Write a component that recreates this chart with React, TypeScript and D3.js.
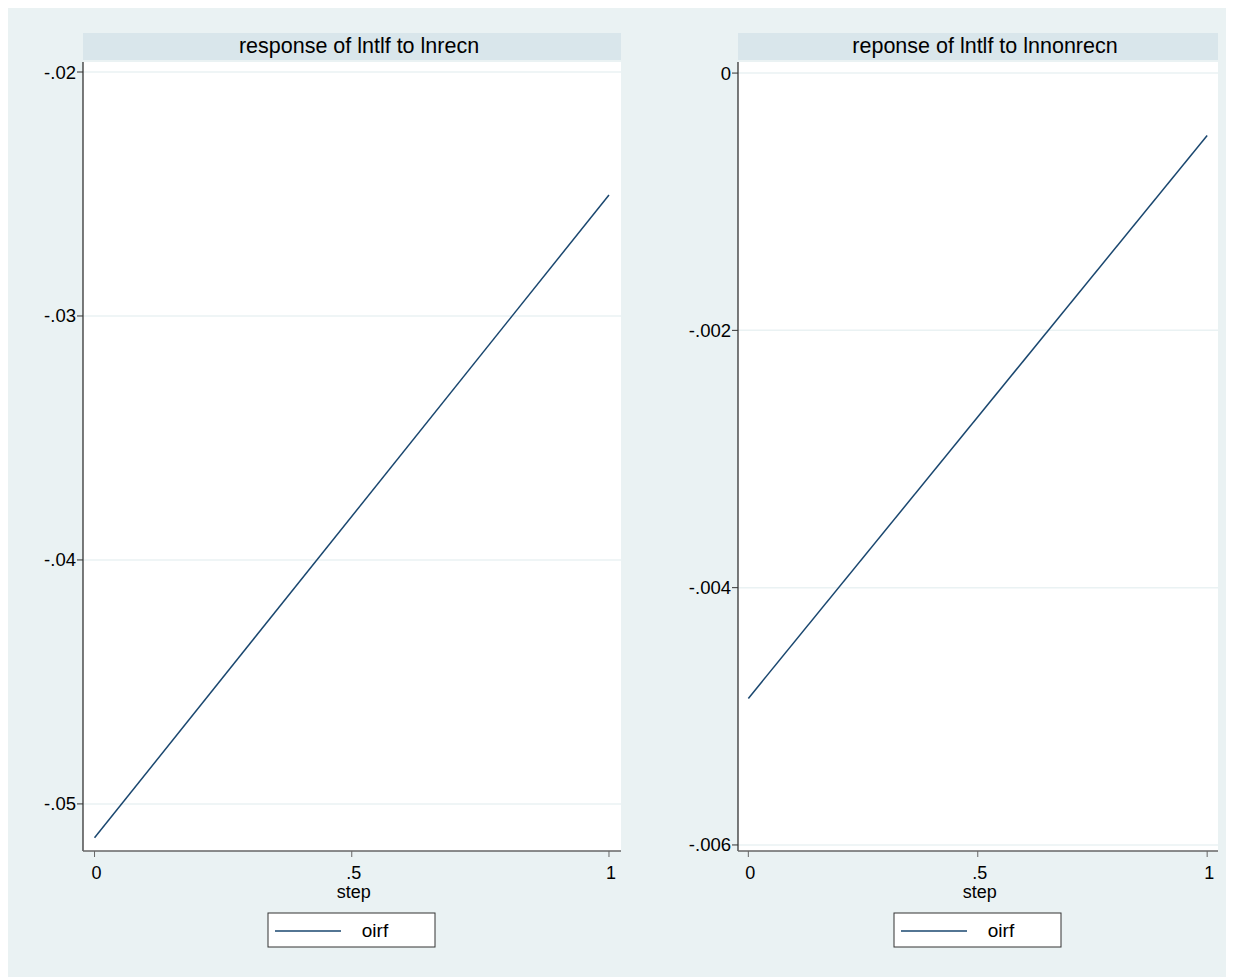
import React from "react";
import * as d3 from "d3";

const steps = [0, 1];
const oirfRecn = [-0.05139, -0.02504];
const oirfNonrecn = [-0.004861, -0.000485];
const xTicks = [0, 0.5, 1];
const yTicksLeft = [-0.02, -0.03, -0.04, -0.05];
const yTicksRight = [0, -0.002, -0.004, -0.006];
const titles = ["response of lntlf to lnrecn", "reponse of lntlf to lnnonrecn"];
const legendLabel = "oirf";

const W = 1226;
const H = 969;
const FONT = "Liberation Sans, Arial, sans-serif";
const NAVY = "#1a476f";

function fmt(v: number) {
  if (v === 0) return "0";
  let s = String(+v.toFixed(4));
  s = s.replace(/^(-?)0\./, "$1.");
  return s;
}

type PanelProps = {
  left: number;
  right: number;
  title: string;
  values: number[];
  yTicks: number[];
  yDomain: [number, number];
};

function Panel({ left, right, title, values, yTicks, yDomain }: PanelProps) {
  const top = 54;
  const bottom = 843;
  const pad = (right - left) * 0.0205;
  const x = d3.scaleLinear().domain([0, 1]).range([left + pad + 0.5, right - pad - 1]);
  const y = d3.scaleLinear().domain(yDomain).range([bottom, top]);
  const line = d3
    .line<number>()
    .x((_, i) => x(steps[i]))
    .y((d) => y(d));
  const cx = (left + right) / 2;
  return (
    <g>
      <rect x={left} y={25} width={right - left} height={27} fill="#d9e6eb" />
      <text x={cx + 7} y={45} textAnchor="middle" fontSize={21.5} fontFamily={FONT} fill="#000">
        {title}
      </text>
      <rect x={left} y={top} width={right - left} height={bottom - top} fill="#ffffff" />
      {yTicks.map((t) => (
        <line key={"g" + t} x1={left} x2={right} y1={y(t)} y2={y(t)} stroke="#eaf2f3" strokeWidth={1.5} />
      ))}
      <path d={line(values) || ""} fill="none" stroke={NAVY} strokeWidth={1.5} />
      <line x1={left} x2={left} y1={top} y2={bottom} stroke="#333" strokeWidth={1.3} />
      <line x1={left} x2={right} y1={bottom} y2={bottom} stroke="#666" strokeWidth={1.5} />
      {yTicks.map((t) => (
        <g key={"y" + t}>
          <line x1={left - 6} x2={left} y1={y(t)} y2={y(t)} stroke="#333" strokeWidth={1} />
          <text x={left - 7} y={y(t) + 6.5} textAnchor="end" fontSize={18.5} fontFamily={FONT} fill="#000">
            {fmt(t)}
          </text>
        </g>
      ))}
      {xTicks.map((t) => (
        <g key={"x" + t}>
          <line x1={x(t)} x2={x(t)} y1={bottom} y2={bottom + 6} stroke="#666" strokeWidth={1} />
          <text x={x(t) + 2} y={bottom + 28} textAnchor="middle" fontSize={18} fontFamily={FONT} fill="#000">
            {fmt(t)}
          </text>
        </g>
      ))}
      <text x={x(0.5) + 2} y={bottom + 47} textAnchor="middle" fontSize={18} fontFamily={FONT} fill="#000">
        step
      </text>
      <g transform={`translate(${cx - 84},905)`}>
        <rect x={0} y={0} width={167} height={34} fill="#fff" stroke="#333" strokeWidth={1} />
        <line x1={7} x2={73} y1={18} y2={18} stroke={NAVY} strokeWidth={1.5} />
        <text x={107} y={24} textAnchor="middle" fontSize={19} fontFamily={FONT} fill="#000">
          {legendLabel}
        </text>
      </g>
    </g>
  );
}

export default function App() {
  return (
    <svg width={W} height={H} style={{ display: "block" }}>
      <rect x={0} y={0} width={W} height={H} fill="#eaf2f3" />
      <Panel
        left={75}
        right={613}
        title={titles[0]}
        values={oirfRecn}
        yTicks={yTicksLeft}
        yDomain={[-0.05193, -0.01959]}
      />
      <Panel
        left={730}
        right={1210}
        title={titles[1]}
        values={oirfNonrecn}
        yTicks={yTicksRight}
        yDomain={[-0.006047, 0.000086]}
      />
    </svg>
  );
}
